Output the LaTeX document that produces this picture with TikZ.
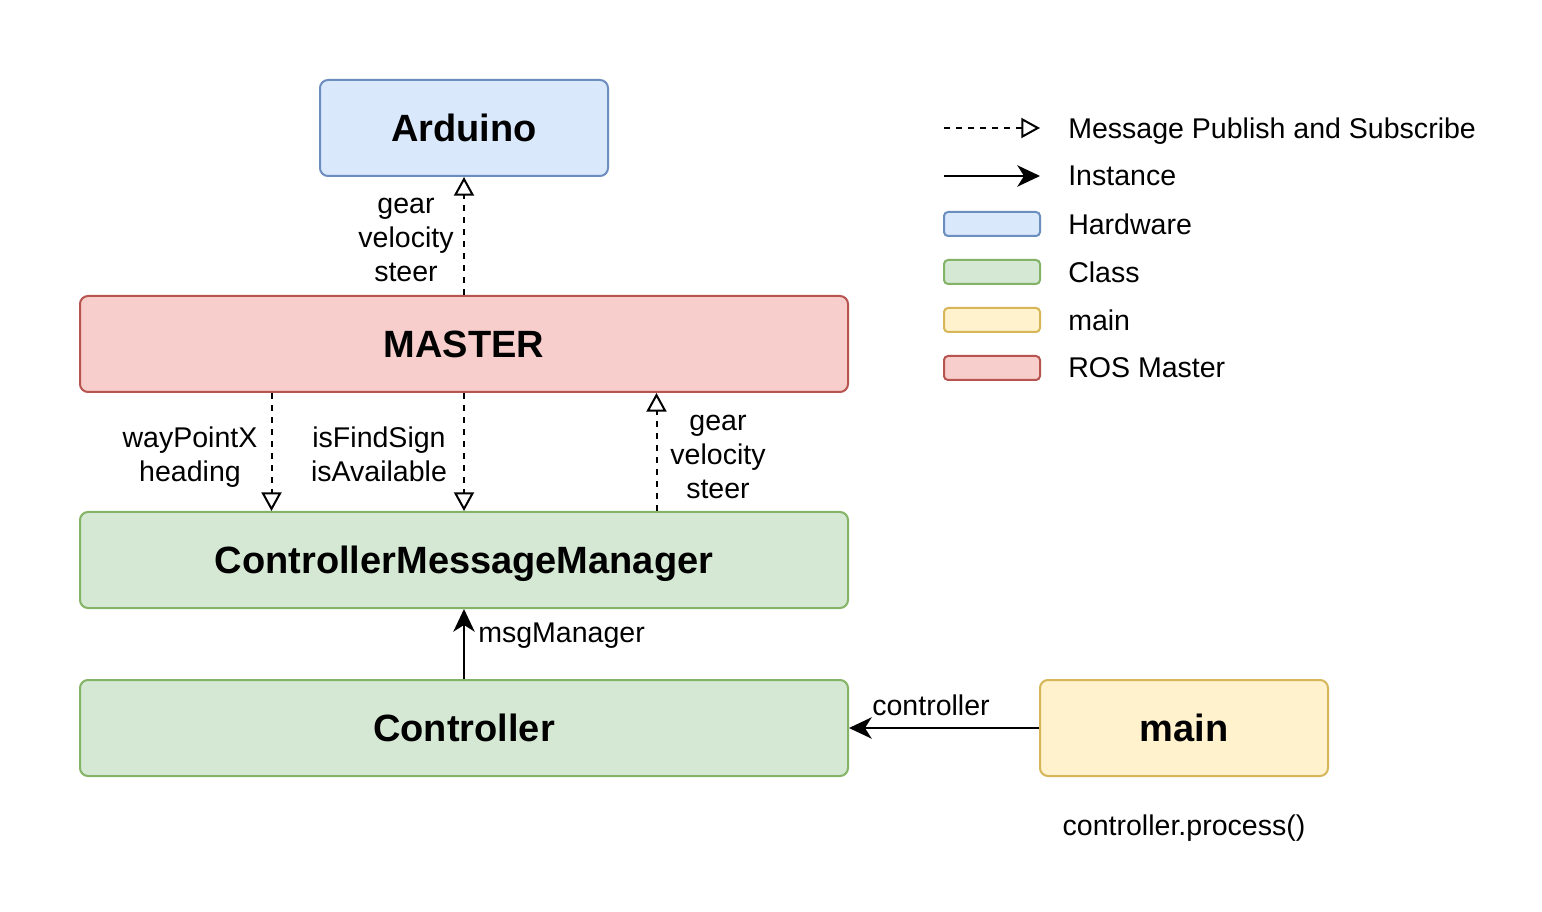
\documentclass[tikz,border=0pt]{standalone}
\usepackage{fontspec}
\setmainfont{Liberation Sans}
\usetikzlibrary{arrows.meta,calc}
\definecolor{hwfill}{HTML}{DAE8FC}\definecolor{hwdraw}{HTML}{6C8EBF}
\definecolor{clfill}{HTML}{D5E8D4}\definecolor{cldraw}{HTML}{82B366}
\definecolor{mnfill}{HTML}{FFF2CC}\definecolor{mndraw}{HTML}{D6B656}
\definecolor{rsfill}{HTML}{F8CECC}\definecolor{rsdraw}{HTML}{B85450}
\begin{document}
\begin{tikzpicture}[x=0.75pt,y=-0.75pt,
  box/.style={draw, line width=1.5pt, rounded corners=6pt, minimum height=72pt, inner sep=0pt,
    text depth=0pt, font=\bfseries\fontsize{28.5}{34}\selectfont},
  widebox/.style={box, minimum width=576pt},
  narrowbox/.style={box, minimum width=216pt},
  hw/.style={fill=hwfill, draw=hwdraw},
  cls/.style={fill=clfill, draw=cldraw},
  mn/.style={fill=mnfill, draw=mndraw},
  rs/.style={fill=rsfill, draw=rsdraw},
  lbl/.style={font=\fontsize{21.4}{25.5}\selectfont, align=center, inner sep=0pt, text depth=0pt},
  legbox/.style={draw, line width=1.5pt, rounded corners=3pt, minimum width=72pt, minimum height=18pt, inner sep=0pt},
  pub/.style={line width=1.5pt, dash pattern=on 4.5pt off 4.5pt, -{Triangle[open,length=14pt,width=15pt,line width=1.5pt]}},
  inst/.style={line width=1.5pt, -{Stealth[length=17pt,width=16pt,inset=5pt]}}
]
\useasboundingbox (0,0) rectangle (1542,912);
\fill[white] (0,0) rectangle (1542,912);

% main nodes
\node[narrowbox, hw] (arduino) at (464,128) {Arduino};
\node[widebox, rs] (master) at (464,344) {MASTER};
\node[widebox, cls] (cmm) at (464,560) {ControllerMessageManager};
\node[widebox, cls] (ctrl) at (464,728) {Controller};
\node[narrowbox, mn] (main) at (1184,728) {main};
\node[lbl] (proc) at (1184,825) {controller.process()};

% connectors
\draw[pub] (master.north) -- (arduino.south);
\draw[pub] ($(master.south west)!0.25!(master.south east)$) -- ($(cmm.north west)!0.25!(cmm.north east)$);
\draw[pub] (master.south) -- (cmm.north);
\draw[pub] ($(cmm.north west)!0.75!(cmm.north east)$) -- ($(master.south west)!0.75!(master.south east)$);
\draw[inst] (ctrl.north) -- (cmm.south);
\draw[inst] (main.west) -- (ctrl.east);

% labels
\node[lbl] (l1) at (406,240) {gear\\velocity\\steer};
\node[lbl] (l2) at (190,454) {wayPointX\\heading};
\node[lbl] (l3) at (379,454) {isFindSign\\isAvailable};
\node[lbl] (l4) at (718,457) {gear\\velocity\\steer};
\node[lbl, anchor=west] (l5) at (478,633) {msgManager};
\node[lbl] (l6) at (931,705) {controller};

% legend
\coordinate (la1) at (944,128); \coordinate (lb1) at (1040,128);
\coordinate (la2) at (944,176); \coordinate (lb2) at (1040,176);
\draw[pub] (la1) -- (lb1);
\draw[inst] (la2) -- (lb2);
\node[legbox, hw] (lg1) at (992,224) {};
\node[legbox, cls] (lg2) at (992,272) {};
\node[legbox, mn] (lg3) at (992,320) {};
\node[legbox, rs] (lg4) at (992,368) {};
\node[lbl, anchor=west] (t1) at (1068,128) {Message Publish and Subscribe};
\node[lbl, anchor=west] (t2) at (1068,176) {Instance};
\node[lbl, anchor=west] (t3) at (1068,224) {Hardware};
\node[lbl, anchor=west] (t4) at (1068,272) {Class};
\node[lbl, anchor=west] (t5) at (1068,320) {main};
\node[lbl, anchor=west] (t6) at (1068,368) {ROS Master};
\end{tikzpicture}
\end{document}
